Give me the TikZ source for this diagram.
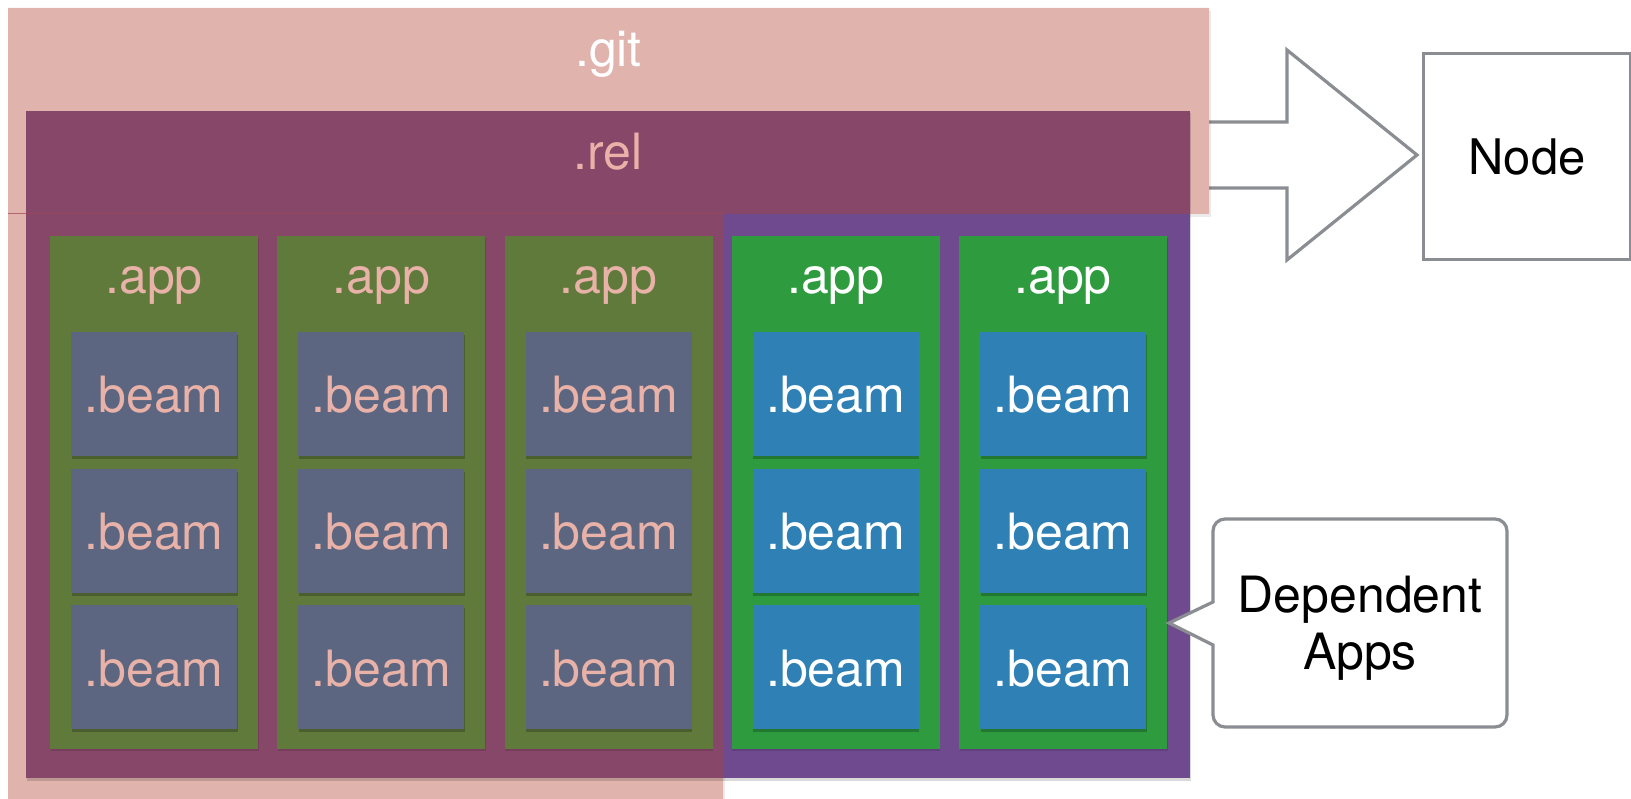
\documentclass[tikz,border=0pt]{standalone}
\usepackage{fontspec}
\setmainfont{TeX Gyre Heros}
\usetikzlibrary{shadows}
\definecolor{pinkbg}{HTML}{E0B3AD}
\definecolor{relmag}{HTML}{874769}
\definecolor{relpur}{HTML}{6F4A8F}
\definecolor{appolive}{HTML}{5F7A3A}
\definecolor{appgreen}{HTML}{2E9B3F}
\definecolor{beamgrey}{HTML}{5C6680}
\definecolor{beamblue}{HTML}{2E80B5}
\definecolor{pinktext}{HTML}{E9B2A8}
\definecolor{outl}{HTML}{8A8D91}
\definecolor{gitline}{HTML}{A04858}
\tikzset{
  bigtxt/.style={font=\fontsize{50}{57}\selectfont, inner sep=0pt, anchor=base},
  appbox/.style={anchor=north west, minimum width=208pt, minimum height=513pt, inner sep=0pt, outer sep=0pt,
     drop shadow={shadow xshift=0.5pt, shadow yshift=-2pt, opacity=0.12, fill=black}},
  beambox/.style={anchor=north west, minimum width=166pt, minimum height=124pt, inner sep=0pt, outer sep=0pt,
     drop shadow={shadow xshift=0.5pt, shadow yshift=-3pt, opacity=0.22, fill=black}},
  outlined/.style={draw=outl, line width=3.2pt, fill=white},
}
\begin{document}
\begin{tikzpicture}[x=1pt, y=-1pt]
\useasboundingbox (0,0) rectangle (1631,799);
% block arrow
\draw[outlined] (1200,122) -- (1287,122) -- (1287,50) -- (1417,155) -- (1287,260) -- (1287,188) -- (1200,188) -- cycle;
% .git area (pink)
\fill[black, opacity=0.08] (10,11) -- (1211,11) -- (1211,217) -- (725,217) -- (725,799) -- (10,799) -- cycle;
\fill[pinkbg] (8,8) -- (1209,8) -- (1209,214) -- (723,214) -- (723,799) -- (8,799) -- cycle;
% .rel area
\fill[black, opacity=0.15] (27,113) rectangle (1191,781);
\fill[relmag] (26,111) rectangle (1190,214);
\fill[relmag] (26,214) rectangle (723,778);
\fill[relpur] (723,214) rectangle (1190,778);
\draw[gitline, line width=1pt, opacity=0.7] (8,214) -- (723,214);
\node[bigtxt, text=white] (git) at (608.5,67) {.git};
\node[bigtxt, text=pinktext] (rel) at (608,170) {.rel};
% apps inside the .git overlay
\foreach \i in {1,2,3} {
  \node[appbox, fill=appolive] (app\i) at ({50+227.25*(\i-1)},236) {};
  \node[bigtxt, text=pinktext] (appt\i) at ({154+227.25*(\i-1)},294) {.app};
  \foreach \j in {1,2,3} {
    \node[beambox, fill=beamgrey] (beam\i\j) at ({71+227.25*(\i-1)},{332+136.5*(\j-1)}) {};
    \node[bigtxt, text=pinktext] (beamt\i\j) at ({154+227.25*(\i-1)},{413+136.5*(\j-1)}) {.beam};
  }
}
% dependent apps
\foreach \i in {4,5} {
  \node[appbox, fill=appgreen] (app\i) at ({50+227.25*(\i-1)},236) {};
  \node[bigtxt, text=white] (appt\i) at ({154+227.25*(\i-1)},294) {.app};
  \foreach \j in {1,2,3} {
    \node[beambox, fill=beamblue] (beam\i\j) at ({71+227.25*(\i-1)},{332+136.5*(\j-1)}) {};
    \node[bigtxt, text=white] (beamt\i\j) at ({154+227.25*(\i-1)},{413+136.5*(\j-1)}) {.beam};
  }
}
% Node box
\node[outlined, anchor=north west, minimum width=207pt, minimum height=206pt, inner sep=0pt,
      font=\fontsize{49}{57}\selectfont, text=black] (node) at (1422,52) {Node};
% callout
\draw[outlined] (1213,690) [rounded corners=12pt] -- (1213,727) -- (1507,727) -- (1507,519) -- (1213,519) -- (1213,560)
  [sharp corners] -- (1213,602) -- (1169,623) -- (1213,645) -- cycle;
\node[font=\fontsize{50}{57}\selectfont, align=center, inner sep=0pt, text=black] (dep) at (1360,628) {Dependent\\Apps};
\end{tikzpicture}
\end{document}
